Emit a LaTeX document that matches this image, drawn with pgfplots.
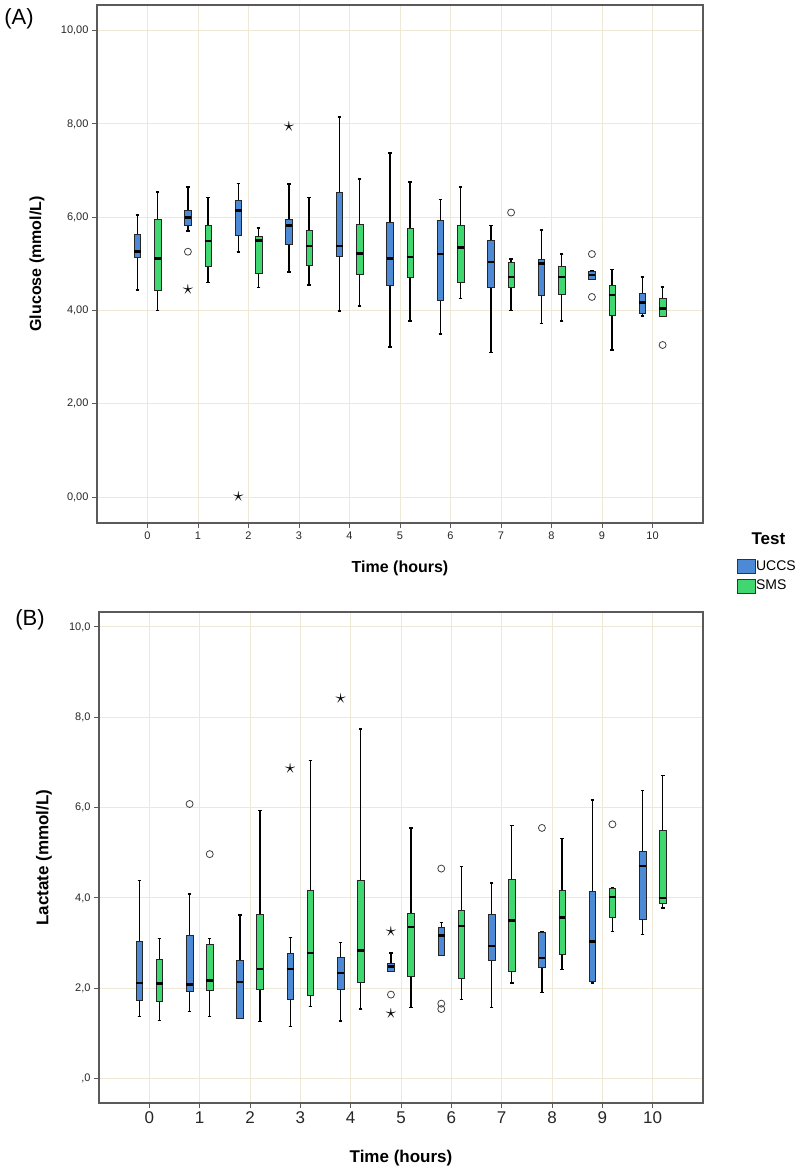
\documentclass[border=0pt]{standalone}
\usepackage{fontspec}
\setmainfont{Liberation Sans}
\usepackage{pgfplots}
\pgfplotsset{compat=1.18}
\usepgfplotslibrary{statistics}
\usetikzlibrary{plotmarks}
\definecolor{uccs}{RGB}{76,138,214}
\definecolor{sms}{RGB}{64,214,112}
\definecolor{gridc}{RGB}{238,232,214}
\definecolor{framec}{RGB}{90,90,90}
\pgfplotsset{
  sqlegend/.style={legend image code/.code={\draw[##1] (0pt,-7pt) rectangle (18pt,7pt);}},
  spss/.style={
    scale only axis, xmin=-1, xmax=11, xtick={0,1,...,10}, ytick={0,2,...,10},
    grid=major, major grid style={gridc, line width=0.9pt},
    axis line style={framec, line width=1.3pt},
    tick style={framec, line width=1pt}, tick align=outside, major tick length=5pt,
    xtick pos=bottom, ytick pos=left,
    /pgf/number format/assume math mode=true,
    ticklabel style={font=\fontsize{11}{13}\selectfont, text=black!85},
    boxplot/draw direction=y,
    boxplot/every whisker/.style={black, line width=1.7pt},
    boxplot/every median/.style={black, line width=2.6pt},
  },
}
\newcommand{\bx}[7]{\addplot[solid, draw=black!85, fill=#7, line width=0.6pt, boxplot prepared={draw position=#1, lower whisker=#2, lower quartile=#3, median=#4, upper quartile=#5, upper whisker=#6, box extend=0.13, whisker extend=0.07}] coordinates {};}
\newcommand{\circs}{\addplot[only marks, mark=o, mark size=3.5pt, black!75, line width=0.8pt]}
\newcommand{\stars}{\addplot[only marks, mark=text, text mark={\fontsize{21}{21}\selectfont$\star$}, black]}
\begin{document}
\begin{tikzpicture}
\path[use as bounding box] (0pt,0pt) rectangle (797pt,-1172pt);
\node[font=\fontsize{22}{24}\selectfont] at (19pt,-19pt) {(A)};
\node[font=\fontsize{22}{24}\selectfont] at (30pt,-620pt) {(B)};
\node[anchor=west, font=\bfseries\fontsize{17}{19}\selectfont] at (748pt,-539pt) {Test};
\begin{axis}[spss, at={(97pt,-523pt)}, anchor=south west, width=606pt, height=518pt,
  ymin=-0.557, ymax=10.55,
  yticklabels={{0,00},{2,00},{4,00},{6,00},{8,00},{10,00}},
  ylabel={Glucose (mmol/L)}, ylabel style={font=\bfseries\fontsize{16}{18}\selectfont, at={(axis description cs:-0.099,0.5)}, anchor=center},
  xlabel={Time (hours)}, xlabel style={font=\bfseries\fontsize{16}{18}\selectfont, at={(axis description cs:0.5,-0.087)}, anchor=center},
  legend cell align=left,
  legend style={at={(1.056,-0.0695)}, anchor=north west, draw=none, fill=none, inner sep=0pt, font=\fontsize{14}{16}\selectfont, row sep=5pt, nodes={inner sep=0.5pt}},
]
\addlegendimage{sqlegend, fill=uccs, draw=black!80}\addlegendentry{UCCS}
\addlegendimage{sqlegend, fill=sms, draw=black!80}\addlegendentry{SMS}
\bx{-0.2}{4.44}{5.13}{5.26}{5.63}{6.05}{uccs}
\bx{0.2}{4.00}{4.43}{5.11}{5.95}{6.54}{sms}
\bx{0.8}{5.71}{5.83}{5.99}{6.15}{6.65}{uccs}
\bx{1.2}{4.60}{4.94}{5.49}{5.82}{6.42}{sms}
\bx{1.8}{5.26}{5.62}{6.15}{6.37}{6.72}{uccs}
\bx{2.2}{4.49}{4.79}{5.50}{5.60}{5.77}{sms}
\bx{2.8}{4.83}{5.42}{5.82}{5.95}{6.71}{uccs}
\bx{3.2}{4.54}{4.96}{5.38}{5.71}{6.42}{sms}
\bx{3.8}{3.99}{5.17}{5.38}{6.53}{8.15}{uccs}
\bx{4.2}{4.09}{4.77}{5.22}{5.85}{6.82}{sms}
\bx{4.8}{3.21}{4.54}{5.11}{5.88}{7.37}{uccs}
\bx{5.2}{3.77}{4.71}{5.15}{5.77}{6.76}{sms}
\bx{5.8}{3.49}{4.21}{5.21}{5.94}{6.38}{uccs}
\bx{6.2}{4.26}{4.60}{5.35}{5.82}{6.65}{sms}
\bx{6.8}{3.10}{4.49}{5.04}{5.50}{5.82}{uccs}
\bx{7.2}{4.00}{4.49}{4.72}{5.03}{5.11}{sms}
\bx{7.8}{3.72}{4.32}{5.01}{5.10}{5.72}{uccs}
\bx{8.2}{3.77}{4.35}{4.72}{4.94}{5.21}{sms}
\bx{8.8}{4.67}{4.67}{4.76}{4.85}{4.85}{uccs}
\bx{9.2}{3.15}{3.90}{4.33}{4.54}{4.88}{sms}
\bx{9.8}{3.88}{3.94}{4.17}{4.37}{4.72}{uccs}
\bx{10.2}{3.88}{3.88}{4.04}{4.26}{4.51}{sms}
\circs coordinates {(0.8,5.26) (7.2,6.10) (8.8,5.21) (8.8,4.29) (10.2,3.26)};
\stars coordinates {(0.8,4.44) (1.8,0.0) (2.8,7.94)};
\end{axis}
\begin{axis}[spss, at={(99pt,-1103pt)}, anchor=south west, width=604pt, height=491pt,
  ymin=-0.54, ymax=10.33,
  yticklabels={{,0},{2,0},{4,0},{6,0},{8,0},{10,0}},
  xticklabel style={font=\fontsize{17}{19}\selectfont},
  ylabel={Lactate (mmol/L)}, ylabel style={font=\bfseries\fontsize{17}{19}\selectfont, at={(axis description cs:-0.091,0.5)}, anchor=center},
  xlabel={Time (hours)}, xlabel style={font=\bfseries\fontsize{17}{19}\selectfont, at={(axis description cs:0.5,-0.112)}, anchor=center},
  boxplot/every whisker/.style={black, line width=1.4pt},
]
\bx{-0.2}{1.38}{1.73}{2.12}{3.03}{4.38}{uccs}
\bx{0.2}{1.29}{1.71}{2.10}{2.65}{3.10}{sms}
\bx{0.8}{1.49}{1.93}{2.08}{3.17}{4.09}{uccs}
\bx{1.2}{1.38}{1.95}{2.17}{2.98}{3.10}{sms}
\bx{1.8}{1.34}{1.34}{2.14}{2.63}{3.62}{uccs}
\bx{2.2}{1.27}{1.98}{2.43}{3.63}{5.94}{sms}
\bx{2.8}{1.16}{1.76}{2.43}{2.78}{3.13}{uccs}
\bx{3.2}{1.60}{1.84}{2.78}{4.18}{7.04}{sms}
\bx{3.8}{1.28}{1.97}{2.34}{2.68}{3.02}{uccs}
\bx{4.2}{1.54}{2.13}{2.84}{4.40}{7.74}{sms}
\bx{4.8}{2.37}{2.37}{2.48}{2.56}{2.78}{uccs}
\bx{5.2}{1.58}{2.26}{3.36}{3.65}{5.55}{sms}
\bx{5.8}{2.74}{2.74}{3.17}{3.36}{3.46}{uccs}
\bx{6.2}{1.75}{2.23}{3.38}{3.72}{4.70}{sms}
\bx{6.8}{1.58}{2.61}{2.94}{3.63}{4.33}{uccs}
\bx{7.2}{2.12}{2.37}{3.50}{4.42}{5.60}{sms}
\bx{7.8}{1.90}{2.46}{2.67}{3.25}{3.25}{uccs}
\bx{8.2}{2.41}{2.76}{3.57}{4.18}{5.31}{sms}
\bx{8.8}{2.12}{2.15}{3.04}{4.14}{6.17}{uccs}
\bx{9.2}{3.26}{3.58}{4.02}{4.22}{4.22}{sms}
\bx{9.8}{3.19}{3.53}{4.71}{5.04}{6.38}{uccs}
\bx{10.2}{3.78}{3.89}{4.00}{5.49}{6.71}{sms}
\circs coordinates {(0.8,6.08) (1.2,4.97) (4.8,1.86) (5.8,4.65) (5.8,1.66) (5.8,1.54) (7.8,5.55) (9.2,5.63)};
\stars coordinates {(2.8,6.87) (3.8,8.41) (4.8,3.26) (4.8,1.43)};
\end{axis}
\end{tikzpicture}
\end{document}
